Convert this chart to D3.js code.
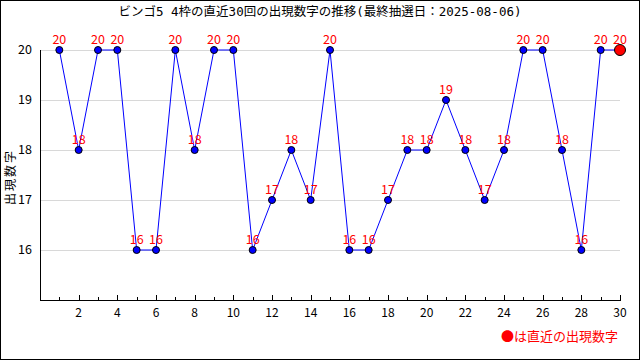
<!DOCTYPE html>
<meta charset="utf-8">
<style>
    body { margin: 0; background: #fff; }
    text { font-family: "Noto Sans CJK JP", "DejaVu Sans", sans-serif; }
    .title { font-family: "DejaVu Sans Mono", "Noto Sans CJK JP", monospace; }
    .grid line { stroke: #d8d8d8; }
</style>
<svg width="640" height="360"></svg>
<script src="https://d3js.org/d3.v7.min.js"></script>
<script>
    var titleText = "ビンゴ5 4枠の直近30回の出現数字の推移(最終抽選日：2025-08-06)";
    var yLabel = "出現数字";
    var legendText = "●は直近の出現数字";
    var draws = d3.range(1, 31);
    var numbers = [20, 18, 20, 20, 16, 16, 20, 18, 20, 20, 16, 17, 18, 17, 20, 16, 16, 17, 18, 18, 19, 18, 17, 18, 20, 20, 18, 16, 20, 20];
    var yTicks = [16, 17, 18, 19, 20];
    var xLabels = [2, 4, 6, 8, 10, 12, 14, 16, 18, 20, 22, 24, 26, 28, 30];

    var svg = d3.select("svg");
    var x = d3.scaleLinear().domain([0, 30]).range([40, 620]);
    var y = d3.scaleLinear().domain([15, 20]).range([300, 50]);

    var data = draws.map(function(d, i) { return { n: d, v: numbers[i] }; });

    svg.append("rect").attr("x", 0.5).attr("y", 0.5).attr("width", 639).attr("height", 359)
        .attr("fill", "#fff").attr("stroke", "#000");

    svg.append("text").attr("class", "title").attr("x", 320).attr("y", 16).attr("text-anchor", "middle")
        .attr("font-size", 12.5).text(titleText);

    // grid
    svg.append("g").attr("class", "grid").selectAll("line").data(yTicks).enter().append("line")
        .attr("x1", x(0)).attr("x2", x(30))
        .attr("y1", function(d) { return Math.round(y(d)) + 0.5; })
        .attr("y2", function(d) { return Math.round(y(d)) + 0.5; });

    // axes
    svg.append("line").attr("x1", x(0) + 0.5).attr("x2", x(0) + 0.5).attr("y1", y(20)).attr("y2", y(15) + 0.5).attr("stroke", "#000");
    svg.append("line").attr("x1", x(0)).attr("x2", x(30) + 1).attr("y1", y(15) + 0.5).attr("y2", y(15) + 0.5).attr("stroke", "#000");

    svg.append("g").selectAll("line").data(draws).enter().append("line")
        .attr("x1", function(d) { return Math.round(x(d)) + 0.5; })
        .attr("x2", function(d) { return Math.round(x(d)) + 0.5; })
        .attr("y1", y(15))
        .attr("y2", function(d) { return y(15) - (d % 2 === 0 ? 5 : 3); })
        .attr("stroke", "#000");

    svg.append("g").selectAll("text").data(xLabels).enter().append("text")
        .attr("x", function(d) { return x(d); }).attr("y", y(15) + 17)
        .attr("text-anchor", "middle").attr("font-size", 12).text(function(d) { return d; });

    svg.append("g").selectAll("text").data(yTicks).enter().append("text")
        .attr("x", 32).attr("y", function(d) { return y(d) + 4; })
        .attr("text-anchor", "end").attr("font-size", 12.5).text(function(d) { return d; });

    svg.append("text").attr("transform", "translate(14.5,177) rotate(-90)")
        .attr("text-anchor", "middle").attr("font-size", 12).attr("letter-spacing", 2).text(yLabel);

    // line
    var line = d3.line().x(function(d) { return x(d.n); }).y(function(d) { return y(d.v); });
    svg.append("path").datum(data).attr("d", line).attr("fill", "none").attr("stroke", "#0000ff").attr("stroke-width", 1);

    svg.append("g").selectAll("circle").data(data).enter().append("circle")
        .attr("cx", function(d) { return x(d.n); }).attr("cy", function(d) { return y(d.v); })
        .attr("r", function(d, i) { return i === data.length - 1 ? 5.5 : 3.5; })
        .attr("fill", function(d, i) { return i === data.length - 1 ? "#ff0000" : "#0000ff"; })
        .attr("stroke", "#000");

    svg.append("g").selectAll("text").data(data).enter().append("text")
        .attr("x", function(d) { return x(d.n); }).attr("y", function(d) { return y(d.v) - 6; })
        .attr("text-anchor", "middle").attr("font-size", 12.5).attr("fill", "#ff0000")
        .text(function(d) { return d.v; });

    svg.append("text").attr("x", 618).attr("y", 341).attr("text-anchor", "end")
        .attr("font-size", 13).attr("fill", "#ff0000").text(legendText);
</script>
